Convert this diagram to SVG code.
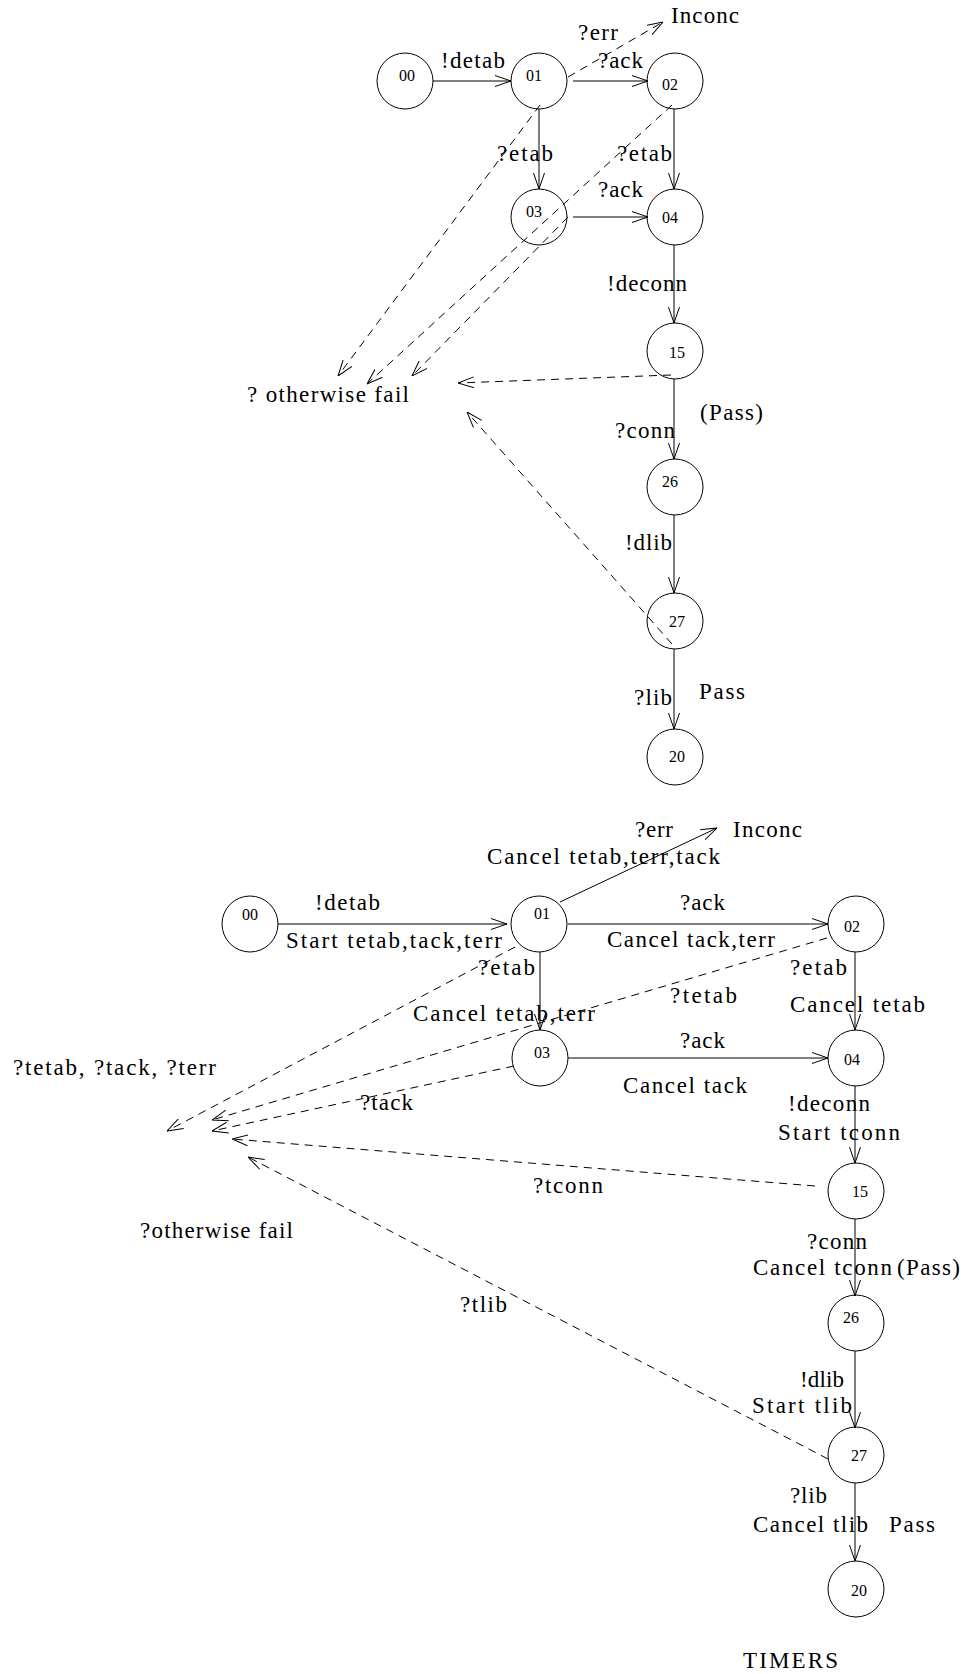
<svg xmlns="http://www.w3.org/2000/svg" width="966" height="1674" viewBox="0 0 966 1674">
<style>
.n circle{fill:none;stroke:#000;stroke-width:1}
.n text{font-family:"Liberation Serif",serif;font-size:16px;text-anchor:middle;fill:#000}
.l{font-family:"Liberation Serif",serif;font-size:23px;fill:#000}
.e{stroke:#000;stroke-width:1;fill:none;marker-end:url(#a)}
.d{stroke-dasharray:8,6}
</style>
<defs>
<marker id="a" viewBox="0 0 16 12" refX="16" refY="6" markerWidth="16" markerHeight="12" markerUnits="userSpaceOnUse" orient="auto">
<path d="M0,0.5 L16,6 L0,11.5" fill="none" stroke="#000" stroke-width="1"/>
</marker>
</defs>
<rect width="966" height="1674" fill="#fff"/>

<!-- top diagram -->
<g id="connectors-top">
<line class="e" x1="433" y1="81" x2="511" y2="81"/>
<line class="e" x1="573" y1="81" x2="648" y2="81"/>
<line class="e d" x1="568" y1="77" x2="663" y2="22"/>
<line class="e" x1="539" y1="109" x2="539" y2="189"/>
<line class="e" x1="674" y1="109" x2="674" y2="189"/>
<line class="e" x1="573" y1="217" x2="648" y2="217"/>
<line class="e" x1="674" y1="245" x2="674" y2="323"/>
<line class="e" x1="674" y1="379" x2="674" y2="459"/>
<line class="e" x1="674" y1="515" x2="674" y2="593"/>
<line class="e" x1="674" y1="649" x2="674" y2="729"/>
<line class="e d" x1="540" y1="105" x2="338" y2="376"/>
<line class="e d" x1="672" y1="105" x2="367" y2="384"/>
<line class="e d" x1="568" y1="217" x2="412" y2="376"/>
<line class="e d" x1="671" y1="375" x2="458" y2="383"/>
<line class="e d" x1="672" y1="644" x2="467" y2="412"/>
</g>
<g id="t00" class="n"><circle cx="405" cy="81" r="28"/><text x="407" y="81">00</text></g>
<g id="t01" class="n"><circle cx="539" cy="81" r="28"/><text x="534" y="81">01</text></g>
<g id="t02" class="n"><circle cx="675" cy="81" r="28"/><text x="670" y="90">02</text></g>
<g id="t03" class="n"><circle cx="539" cy="217" r="28"/><text x="534" y="217">03</text></g>
<g id="t04" class="n"><circle cx="675" cy="217" r="28"/><text x="670" y="223">04</text></g>
<g id="t15" class="n"><circle cx="675" cy="351" r="28"/><text x="677" y="358">15</text></g>
<g id="t26" class="n"><circle cx="675" cy="487" r="28"/><text x="670" y="487">26</text></g>
<g id="t27" class="n"><circle cx="675" cy="621" r="28"/><text x="677" y="627">27</text></g>
<g id="t20" class="n"><circle cx="675" cy="757" r="28"/><text x="677" y="762">20</text></g>
<g id="labels-top">
<text class="l" x="671" y="23" textLength="68">Inconc</text>
<text class="l" x="441" y="68" textLength="64">!detab</text>
<text class="l" x="578" y="40" textLength="40">?err</text>
<text class="l" x="598" y="68" textLength="45">?ack</text>
<text class="l" x="497" y="161" textLength="56">?etab</text>
<text class="l" x="617" y="161" textLength="55">?etab</text>
<text class="l" x="598" y="197" textLength="45">?ack</text>
<text class="l" x="607" y="291" textLength="80">!deconn</text>
<text class="l" x="247" y="402" textLength="162">? otherwise fail</text>
<text class="l" x="700" y="420" textLength="63">(Pass)</text>
<text class="l" x="615" y="438" textLength="60">?conn</text>
<text class="l" x="625" y="550" textLength="47">!dlib</text>
<text class="l" x="634" y="705" textLength="38">?lib</text>
<text class="l" x="699" y="699" textLength="46">Pass</text>
</g>

<!-- bottom diagram -->
<g id="connectors-bottom">
<line class="e" x1="278" y1="924" x2="507" y2="924"/>
<line class="e" x1="568" y1="924" x2="828" y2="924"/>
<line class="e" x1="560" y1="902" x2="717" y2="828"/>
<line class="e" x1="540" y1="952" x2="540" y2="1030"/>
<line class="e" x1="855" y1="952" x2="855" y2="1030"/>
<line class="e" x1="568" y1="1058" x2="828" y2="1058"/>
<line class="e" x1="855" y1="1086" x2="855" y2="1163"/>
<line class="e" x1="855" y1="1219" x2="855" y2="1296"/>
<line class="e" x1="855" y1="1351" x2="855" y2="1428"/>
<line class="e" x1="855" y1="1483" x2="855" y2="1561"/>
<line class="e d" x1="515" y1="947" x2="167" y2="1131"/>
<line class="e d" x1="827" y1="938" x2="212" y2="1120"/>
<line class="e d" x1="514" y1="1066" x2="212" y2="1131"/>
<line class="e d" x1="815" y1="1186" x2="232" y2="1139"/>
<line class="e d" x1="828" y1="1459" x2="248" y2="1157"/>
</g>
<g id="b00" class="n"><circle cx="250" cy="924" r="28"/><text x="250" y="920">00</text></g>
<g id="b01" class="n"><circle cx="539" cy="924" r="28"/><text x="542" y="919">01</text></g>
<g id="b02" class="n"><circle cx="856" cy="924" r="28"/><text x="852" y="932">02</text></g>
<g id="b03" class="n"><circle cx="540" cy="1058" r="28"/><text x="542" y="1058">03</text></g>
<g id="b04" class="n"><circle cx="856" cy="1058" r="28"/><text x="852" y="1065">04</text></g>
<g id="b15" class="n"><circle cx="856" cy="1191" r="28"/><text x="860" y="1197">15</text></g>
<g id="b26" class="n"><circle cx="856" cy="1323" r="28"/><text x="851" y="1323">26</text></g>
<g id="b27" class="n"><circle cx="856" cy="1455" r="28"/><text x="859" y="1461">27</text></g>
<g id="b20" class="n"><circle cx="856" cy="1589" r="28"/><text x="859" y="1596">20</text></g>
<g id="labels-bottom">
<text class="l" x="635" y="837" textLength="38">?err</text>
<text class="l" x="733" y="837" textLength="69">Inconc</text>
<text class="l" x="487" y="864" textLength="233">Cancel tetab,terr,tack</text>
<text class="l" x="315" y="910" textLength="65">!detab</text>
<text class="l" x="286" y="948" textLength="216">Start tetab,tack,terr</text>
<text class="l" x="680" y="910" textLength="45">?ack</text>
<text class="l" x="607" y="947" textLength="168">Cancel tack,terr</text>
<text class="l" x="478" y="975" textLength="57">?etab</text>
<text class="l" x="790" y="975" textLength="57">?etab</text>
<text class="l" x="670" y="1003" textLength="67">?tetab</text>
<text class="l" x="790" y="1012" textLength="135">Cancel tetab</text>
<text class="l" x="413" y="1021" textLength="182">Cancel tetab,terr</text>
<text class="l" x="680" y="1048" textLength="45">?ack</text>
<text class="l" x="13" y="1075" textLength="203">?tetab, ?tack, ?terr</text>
<text class="l" x="623" y="1093" textLength="124">Cancel tack</text>
<text class="l" x="360" y="1110" textLength="53">?tack</text>
<text class="l" x="788" y="1111" textLength="82">!deconn</text>
<text class="l" x="778" y="1140" textLength="122">Start tconn</text>
<text class="l" x="533" y="1193" textLength="70">?tconn</text>
<text class="l" x="140" y="1238" textLength="153">?otherwise fail</text>
<text class="l" x="807" y="1249" textLength="60">?conn</text>
<text class="l" x="753" y="1275" textLength="139">Cancel tconn</text>
<text class="l" x="897" y="1275" textLength="63">(Pass)</text>
<text class="l" x="460" y="1312" textLength="47">?tlib</text>
<text class="l" x="800" y="1387" textLength="44">!dlib</text>
<text class="l" x="752" y="1413" textLength="100">Start tlib</text>
<text class="l" x="790" y="1503" textLength="37">?lib</text>
<text class="l" x="753" y="1532" textLength="115">Cancel tlib</text>
<text class="l" x="889" y="1532" textLength="46">Pass</text>
<text class="l" x="743" y="1668" textLength="95">TIMERS</text>
</g>
</svg>
